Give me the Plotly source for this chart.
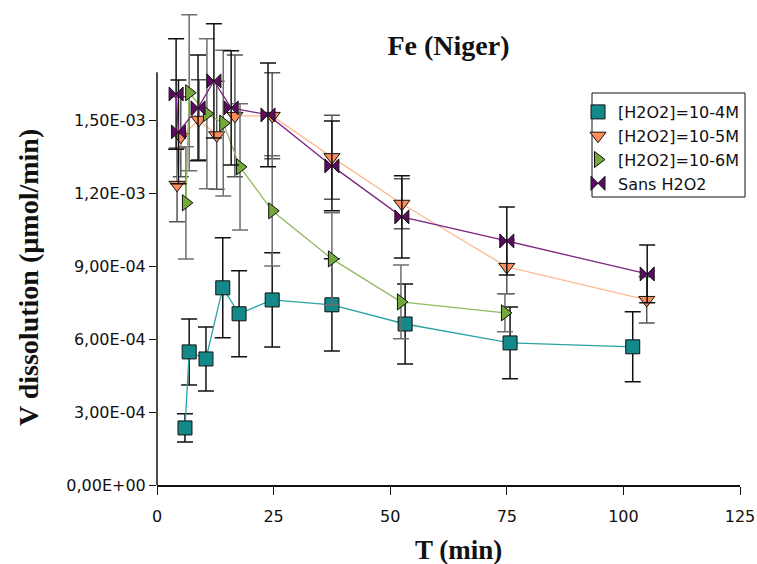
import plotly.graph_objects as go

# Dissolution rate of Fe (Niger sample) vs time, for several H2O2 concentrations
t_1e4 = [6.0, 6.9, 10.5, 14.1, 17.6, 24.7, 37.5, 53.2, 75.7, 102.0]
v_1e4 = [2.35e-4, 5.48e-4, 5.19e-4, 8.12e-4, 7.05e-4, 7.62e-4, 7.42e-4, 6.63e-4, 5.85e-4, 5.69e-4]
e_1e4 = [5.8e-5, 1.36e-4, 1.32e-4, 2.06e-4, 1.77e-4, 1.94e-4, 1.90e-4, 1.65e-4, 1.48e-4, 1.44e-4]

t_1e5 = [4.3, 5.1, 9.0, 12.8, 16.7, 24.7, 37.5, 52.5, 75.0, 105.0]
v_1e5 = [1.236e-3, 1.434e-3, 1.504e-3, 1.44e-3, 1.52e-3, 1.52e-3, 1.35e-3, 1.158e-3, 8.98e-4, 7.62e-4]
e_1e5 = [1.52e-4, 1.65e-4, 1.65e-4, 2.22e-4, 2.51e-4, 1.77e-4, 1.73e-4, 1.03e-4, 1.11e-4, 9.5e-5]

t_1e6 = [6.2, 6.9, 10.7, 14.2, 17.8, 24.7, 37.5, 52.3, 74.6]
v_1e6 = [1.162e-3, 1.615e-3, 1.529e-3, 1.49e-3, 1.31e-3, 1.129e-3, 9.31e-4, 7.54e-4, 7.09e-4]
e_1e6 = [2.31e-4, 3.21e-4, 3.09e-4, 3.0e-4, 2.6e-4, 2.27e-4, 1.9e-4, 1.52e-4, 7.8e-5]

t_sans = [4.1, 4.6, 8.8, 12.2, 15.9, 23.8, 37.5, 52.5, 75.0, 105.1]
v_sans = [1.61e-3, 1.454e-3, 1.553e-3, 1.664e-3, 1.553e-3, 1.524e-3, 1.314e-3, 1.104e-3, 1.005e-3, 8.69e-4]
e_sans = [2.27e-4, 2.14e-4, 2.18e-4, 2.35e-4, 2.35e-4, 2.14e-4, 1.85e-4, 1.69e-4, 1.40e-4, 1.19e-4]

y_tickvals = [0, 3e-4, 6e-4, 9e-4, 1.2e-3, 1.5e-3]
y_ticktext = ["0,00E+00", "3,00E-04", "6,00E-04", "9,00E-04", "1,20E-03", "1,50E-03"]
x_tickvals = [0, 25, 50, 75, 100, 125]
y_axis_top = 1.70e-3     # visible extent of the vertical axis line
y_view_top = 1.96e-3     # headroom so the tallest error bars are not clipped

series = [
    ("[H2O2]=10-4M", t_1e4, v_1e4, e_1e4, "square", "#13898a", "#2aa3a3", "#111111"),
    ("[H2O2]=10-5M", t_1e5, v_1e5, e_1e5, "triangle-down", "#fb8d5a", "#ffb890", "#555555"),
    ("[H2O2]=10-6M", t_1e6, v_1e6, e_1e6, "triangle-right", "#74a83a", "#8fbb5e", "#6e6e6e"),
    ("Sans H2O2", t_sans, v_sans, e_sans, "bowtie", "#5e0a63", "#7c2481", "#111111"),
]

W, H = 757, 564
L, R, T, B = 157, 17, 9, 79
pw, ph = W - L - R, H - T - B


def px_x(px):
    return (px - L) / pw


def px_y(py):
    return (H - B - py) / ph


fig = go.Figure()
for name, t, v, e, sym, mcol, lcol, ecol in series:
    marker = dict(symbol=sym, size=14, color=mcol, line=dict(color="#111111", width=1))
    fig.add_trace(go.Scatter(
        x=t, y=v, name=name, mode="lines+markers", showlegend=False,
        line=dict(color=lcol, width=1.3), marker=marker,
        error_y=dict(type="data", array=e, visible=True,
                     color=ecol, thickness=1.5, width=8),
        cliponaxis=False,
    ))
    # marker-only legend entry
    fig.add_trace(go.Scatter(x=[None], y=[None], name=name, mode="markers",
                             marker=marker, showlegend=True))

# vertical axis line up to the top of the visible scale
fig.add_shape(type="line", xref="paper", yref="y", x0=0, x1=0, y0=0, y1=y_axis_top,
              line=dict(color="#111111", width=1.5))
# legend frame
fig.add_shape(type="rect", xref="paper", yref="paper",
              x0=px_x(592), x1=px_x(745), y0=px_y(197), y1=px_y(93),
              line=dict(color="#111111", width=1), fillcolor="white", layer="above")

fig.add_annotation(text="<b>T (min)</b>", xref="paper", yref="paper",
                   x=px_x(458), y=px_y(550), xanchor="center", yanchor="middle",
                   showarrow=False,
                   font=dict(family="Liberation Serif", size=27, color="#111111"))
fig.add_annotation(text="<b>V dissolution (µmol/min)</b>", xref="paper", yref="paper",
                   x=px_x(28), y=px_y(278), xanchor="center", yanchor="middle",
                   textangle=-90, showarrow=False,
                   font=dict(family="Liberation Serif", size=28, color="#111111"))

fig.update_layout(
    width=W, height=H,
    margin=dict(l=L, r=R, t=T, b=B),
    paper_bgcolor="white", plot_bgcolor="white",
    font=dict(family="DejaVu Sans", size=16, color="#111111"),
    title=dict(text="<b>Fe (Niger)</b>", x=0.5, xref="paper", xanchor="center",
               y=1 - 45 / H, yanchor="middle",
               font=dict(family="Liberation Serif", size=28, color="#111111")),
    legend=dict(x=px_x(578), y=px_y(95), xanchor="left", yanchor="top",
                borderwidth=0, bgcolor="rgba(0,0,0,0)",
                font=dict(family="DejaVu Sans", size=16, color="#111111"),
                itemwidth=30, tracegroupgap=0),
)

fig.update_xaxes(
    range=[0, 125], tickvals=x_tickvals, ticktext=[str(v) for v in x_tickvals],
    showline=True, linecolor="#111111", linewidth=1.5, showgrid=False, zeroline=False,
    ticks="outside", ticklen=8, tickcolor="#111111", ticklabelstandoff=8,
    automargin=False,
)
fig.update_yaxes(
    range=[0, y_view_top], tickvals=y_tickvals, ticktext=y_ticktext,
    showline=False, showgrid=False, zeroline=False,
    ticks="outside", ticklen=7, tickcolor="#111111",
    automargin=False,
)

fig.write_html("out.html")
